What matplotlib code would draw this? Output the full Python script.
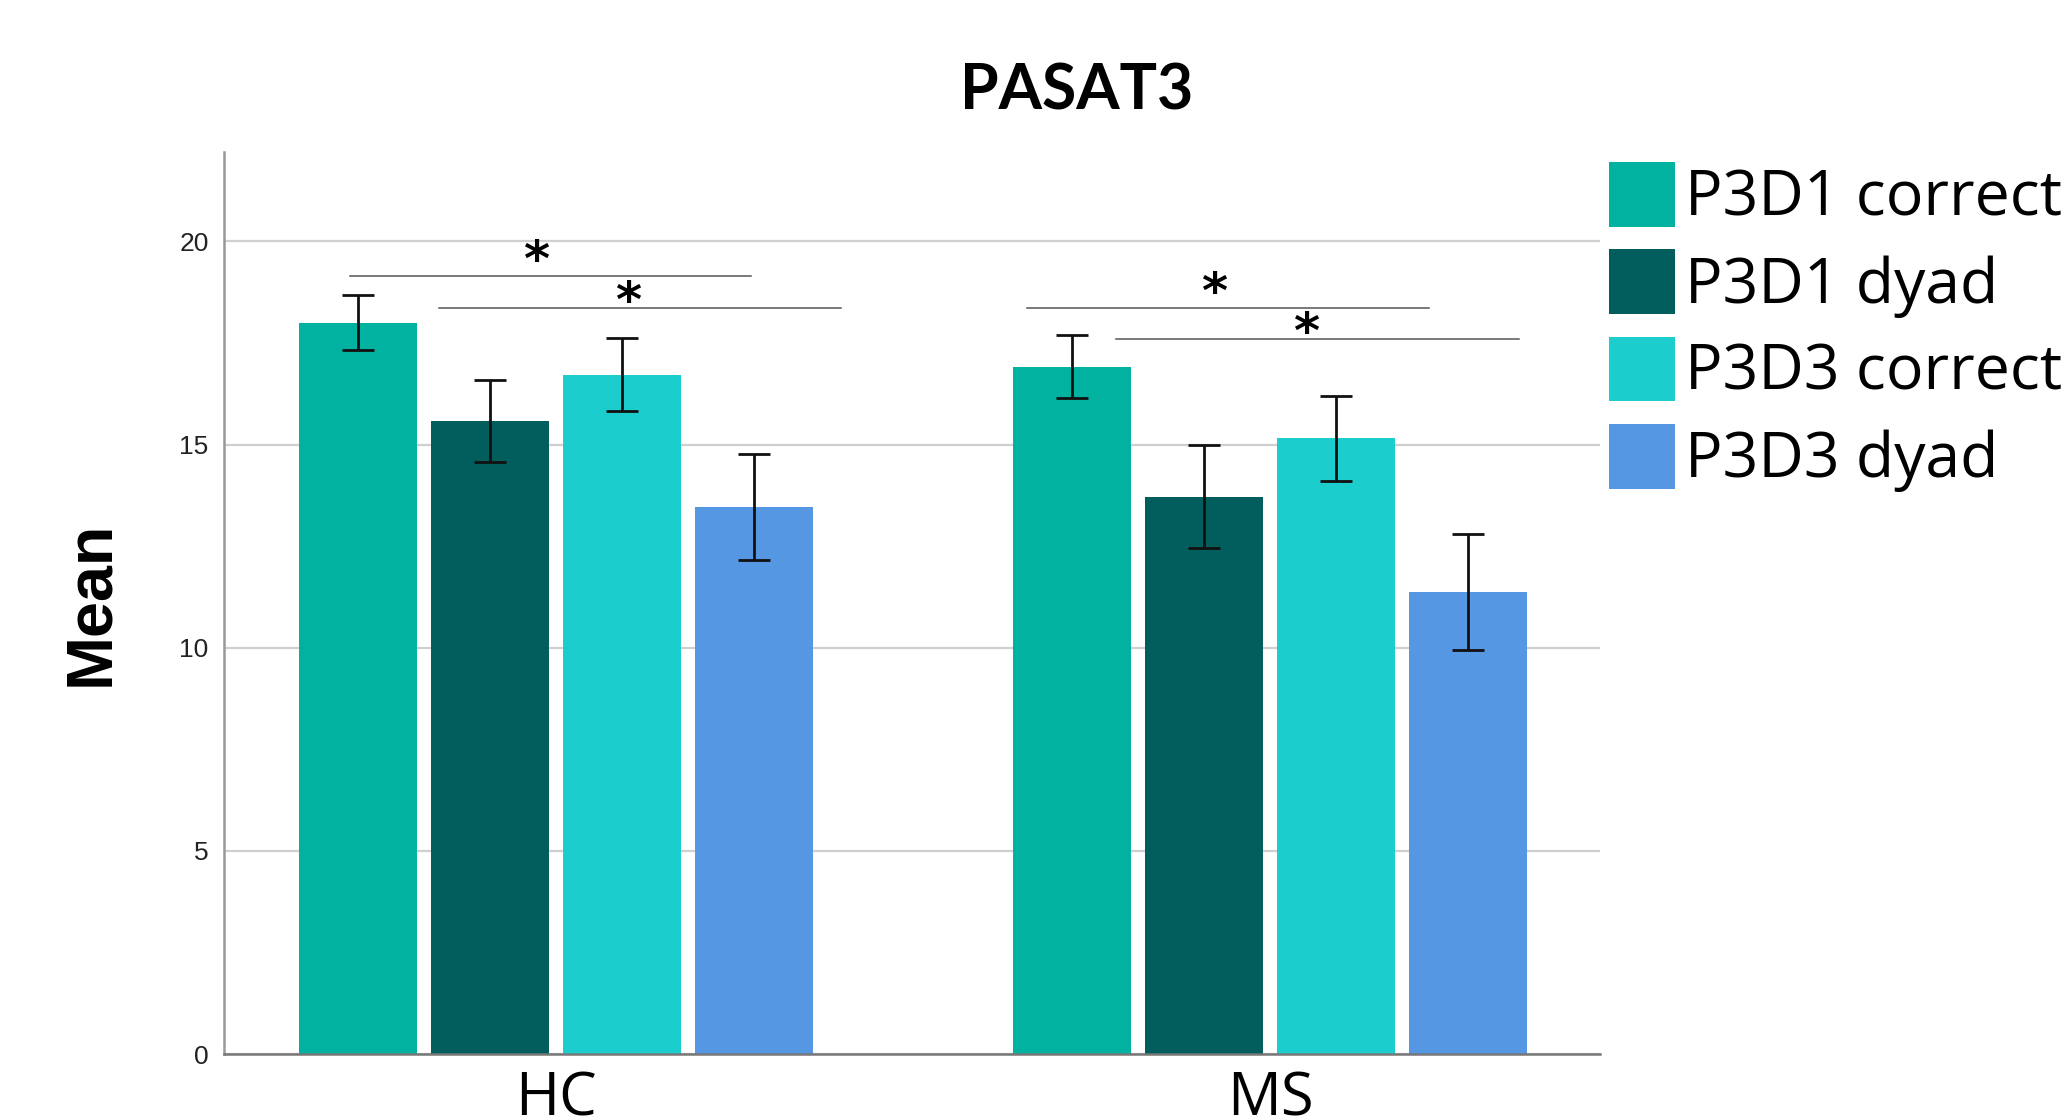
import matplotlib
matplotlib.use("Agg")
import matplotlib.pyplot as plt
from matplotlib.patches import Patch

# Data
groups = ['HC', 'MS']
series = ['P3D1 correct', 'P3D1 dyad', 'P3D3 correct', 'P3D3 dyad']
colors = ['#02B2A0', '#025E5C', '#1CCDCD', '#5697E4']
hc_means = [18.0, 15.57, 16.72, 13.47]
ms_means = [16.92, 13.72, 15.15, 11.38]
hc_err = [0.67, 1.01, 0.90, 1.30]
ms_err = [0.77, 1.26, 1.05, 1.43]

# significance brackets: (x start, x end, y), star centre (x, y)
sig_lines = [(-0.289, 0.273, 19.16), (-0.164, 0.399, 18.37),
             (0.660, 1.223, 18.37), (0.784, 1.349, 17.59)]
sig_stars = [(-0.028, 19.80), (0.101, 18.79), (0.922, 19.01), (1.050, 18.03)]

yticks = [0, 5, 10, 15, 20]

fig = plt.figure(figsize=(20.68, 11.17), dpi=100)
ax = fig.add_axes([224 / 2068, 1 - 1054 / 1117, (1600 - 224) / 2068, (1054 - 152) / 1117])

width = 0.165
step = 0.185
offsets = [-1.5 * step, -0.5 * step, 0.5 * step, 1.5 * step]
means = [hc_means, ms_means]
errs = [hc_err, ms_err]

for i, name in enumerate(series):
    xs = [g + offsets[i] for g in range(len(groups))]
    ys = [means[g][i] for g in range(len(groups))]
    es = [errs[g][i] for g in range(len(groups))]
    ax.bar(xs, ys, width=width, color=colors[i], zorder=2, label=name)
    ax.errorbar(xs, ys, yerr=es, fmt='none', ecolor='#111111', elinewidth=2.0,
                capsize=11.5, capthick=2.0, zorder=3)

for x0, x1, y in sig_lines:
    ax.plot([x0, x1], [y, y], color='#555555', lw=1.1, zorder=3)
# asterisk glyph centre sits about 0.53 em above the baseline
star_shift = 0.53 * 36 / 72 * 100 / 40.6
for x, y in sig_stars:
    ax.text(x, y - star_shift, '*', ha='center', va='baseline', fontsize=36,
            family='DejaVu Sans', weight='bold', color='black')

ax.set_xlim(-0.465, 1.462)
ax.set_ylim(0, 22.2)
ax.set_yticks(yticks)
ax.set_yticklabels([str(t) for t in yticks], fontsize=19, family='Liberation Sans', color='#222222')
ax.set_xticks(range(len(groups)))
ax.set_xticklabels(groups, fontsize=43, family='Open Sans')
ax.tick_params(axis='y', length=0, pad=11)
ax.tick_params(axis='x', length=0, pad=11)
ax.yaxis.grid(True, color='#cfcfcf', lw=1.6, zorder=0)
ax.set_axisbelow(True)
for s in ['top', 'right']:
    ax.spines[s].set_visible(False)
ax.spines['left'].set_color('#999999')
ax.spines['left'].set_linewidth(1.8)
ax.spines['bottom'].set_color('#777777')
ax.spines['bottom'].set_linewidth(1.8)

fig.text(1077 / 2068, 1 - 92 / 1117, 'PASAT3', ha='center', va='center',
         fontsize=45, family='Lato', weight='bold')
fig.text(91 / 2068, 1 - 603 / 1117, 'Mean', ha='center', va='center', rotation=90,
         fontsize=46.5, family='Liberation Sans', weight='bold')

handles = [Patch(facecolor=c, edgecolor='none') for c in colors]
fig.legend(handles, series, loc='upper left', bbox_to_anchor=(1609 / 2068, 1 - 162 / 1117),
           frameon=False, prop={'family': 'Open Sans', 'size': 45},
           handlelength=1.05, handleheight=1.22, handletextpad=0.17,
           labelspacing=0.30, borderpad=0, borderaxespad=0)

fig.savefig('out.png', dpi=100)
